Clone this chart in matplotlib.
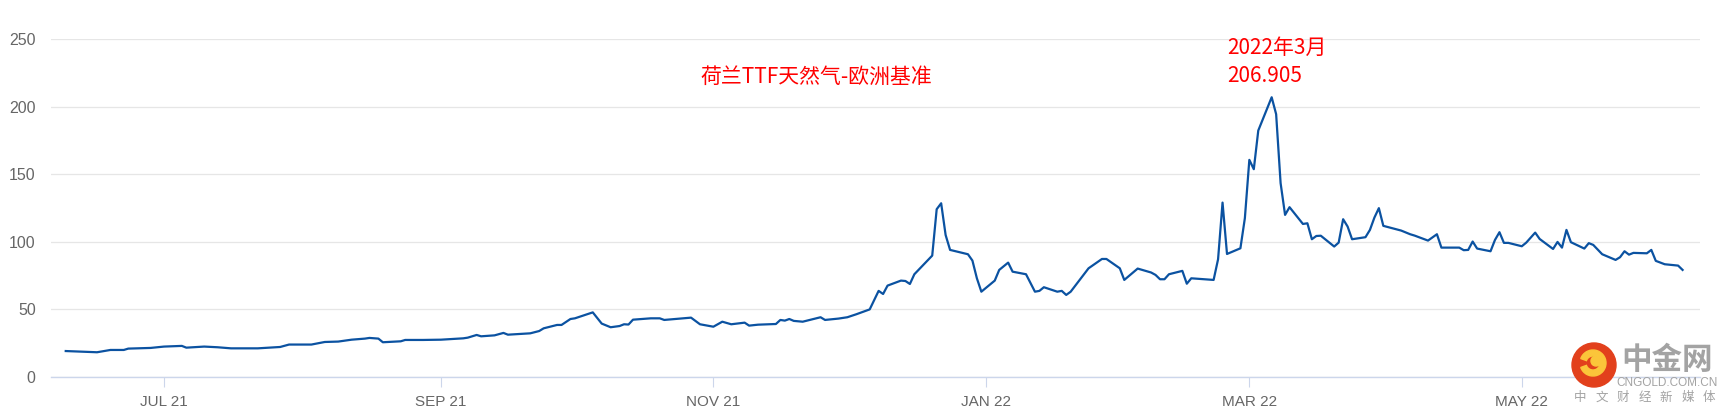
import pandas as pd
import matplotlib
matplotlib.use("Agg")
import matplotlib.pyplot as plt
from matplotlib.patches import Circle, Wedge

plt.rcParams['font.family'] = ['Liberation Sans', 'Noto Sans CJK SC', 'DejaVu Sans']

# TTF price (EUR/MWh), vertices
dates = [
    "2021-06-09", "2021-06-16", "2021-06-19", "2021-06-22", "2021-06-23", "2021-06-28",
    "2021-07-01", "2021-07-05", "2021-07-06", "2021-07-10", "2021-07-13", "2021-07-16",
    "2021-07-22", "2021-07-27", "2021-07-29", "2021-08-03", "2021-08-06", "2021-08-09",
    "2021-08-12", "2021-08-15", "2021-08-16", "2021-08-18", "2021-08-19", "2021-08-23",
    "2021-08-24", "2021-08-28", "2021-09-01", "2021-09-06", "2021-09-07", "2021-09-09",
    "2021-09-10", "2021-09-13", "2021-09-15", "2021-09-16", "2021-09-21", "2021-09-23",
    "2021-09-24", "2021-09-27", "2021-09-28", "2021-09-30", "2021-10-01", "2021-10-05",
    "2021-10-07", "2021-10-09", "2021-10-11", "2021-10-12", "2021-10-13", "2021-10-14",
    "2021-10-18", "2021-10-20", "2021-10-21", "2021-10-27", "2021-10-29", "2021-11-01",
    "2021-11-03", "2021-11-05", "2021-11-08", "2021-11-09", "2021-11-11", "2021-11-15",
    "2021-11-16", "2021-11-17", "2021-11-18", "2021-11-19", "2021-11-21", "2021-11-25",
    "2021-11-26", "2021-11-29", "2021-12-01", "2021-12-03", "2021-12-06", "2021-12-08",
    "2021-12-09", "2021-12-10", "2021-12-13", "2021-12-14", "2021-12-15", "2021-12-16",
    "2021-12-20", "2021-12-21", "2021-12-22", "2021-12-23", "2021-12-24", "2021-12-28",
    "2021-12-29", "2021-12-30", "2021-12-31", "2022-01-03", "2022-01-04", "2022-01-06",
    "2022-01-07", "2022-01-10", "2022-01-12", "2022-01-13", "2022-01-14", "2022-01-17",
    "2022-01-18", "2022-01-19", "2022-01-20", "2022-01-24", "2022-01-27", "2022-01-28",
    "2022-01-31", "2022-02-01", "2022-02-04", "2022-02-07", "2022-02-08", "2022-02-09",
    "2022-02-10", "2022-02-11", "2022-02-14", "2022-02-15", "2022-02-16", "2022-02-21",
    "2022-02-22", "2022-02-23", "2022-02-24", "2022-02-27", "2022-02-28", "2022-03-01",
    "2022-03-02", "2022-03-03", "2022-03-06", "2022-03-07", "2022-03-08", "2022-03-09",
    "2022-03-10", "2022-03-13", "2022-03-14", "2022-03-15", "2022-03-16", "2022-03-17",
    "2022-03-20", "2022-03-21", "2022-03-22", "2022-03-23", "2022-03-24", "2022-03-27",
    "2022-03-28", "2022-03-29", "2022-03-30", "2022-03-31", "2022-04-04", "2022-04-06",
    "2022-04-07", "2022-04-10", "2022-04-12", "2022-04-13", "2022-04-17", "2022-04-18",
    "2022-04-19", "2022-04-20", "2022-04-21", "2022-04-24", "2022-04-25", "2022-04-26",
    "2022-04-27", "2022-04-28", "2022-05-01", "2022-05-02", "2022-05-04", "2022-05-05",
    "2022-05-08", "2022-05-09", "2022-05-10", "2022-05-11", "2022-05-12", "2022-05-15",
    "2022-05-16", "2022-05-17", "2022-05-19", "2022-05-22", "2022-05-23", "2022-05-24",
    "2022-05-25", "2022-05-26", "2022-05-29", "2022-05-30", "2022-05-31", "2022-06-02",
    "2022-06-05", "2022-06-06",
]
prices = [
    19.2, 18.3, 20.0, 20.0, 21.0, 21.5,
    22.5, 23.0, 21.7, 22.5, 22.0, 21.2,
    21.2, 22.2, 24.0, 24.0, 25.9, 26.2,
    27.6, 28.4, 28.9, 28.4, 25.7, 26.4,
    27.4, 27.4, 27.6, 28.6, 29.1, 31.1,
    30.1, 30.8, 32.6, 31.3, 32.3, 34.0,
    36.0, 38.5, 38.5, 42.9, 43.4, 47.8,
    39.5, 36.8, 37.7, 39.0, 38.8, 42.4,
    43.4, 43.4, 42.2, 43.9, 39.0, 37.2,
    40.9, 39.0, 40.2, 38.0, 38.7, 39.2,
    42.2, 41.7, 42.9, 41.5, 40.9, 44.2,
    42.2, 43.2, 44.2, 46.4, 50.0, 63.7,
    61.4, 67.6, 71.3, 71.0, 68.8, 76.0,
    89.8, 124.1, 128.5, 105.0, 94.0, 90.8,
    86.1, 73.0, 63.1, 71.3, 79.2, 84.6,
    77.9, 76.0, 63.1, 63.7, 66.4, 63.1,
    63.7, 60.7, 63.1, 80.4, 87.3, 87.3,
    80.4, 71.8, 80.2, 77.3, 75.5, 72.3,
    72.3, 76.0, 78.5, 69.0, 73.0, 71.8,
    87.1, 129.0, 91.0, 95.2, 117.5, 160.6,
    153.7, 182.3, 206.905, 194.4, 143.4, 119.9,
    125.6, 113.2, 113.7, 101.9, 104.3, 104.5,
    96.5, 99.4, 116.7, 111.3, 101.9, 103.4,
    108.8, 117.9, 124.9, 111.8, 108.3, 105.6,
    104.6, 100.9, 105.6, 95.7, 95.7, 93.8,
    94.0, 100.2, 95.0, 93.0, 101.4, 107.1,
    99.2, 99.2, 96.7, 99.4, 106.8, 102.1,
    94.7, 99.9, 95.7, 108.8, 99.7, 95.0,
    99.0, 97.7, 90.8, 86.6, 88.6, 93.0,
    90.5, 91.8, 91.5, 94.0, 85.9, 83.4,
    82.4, 79.2,
]
tick_dates = ["2021-07-01", "2021-09-01", "2021-11-01", "2022-01-01", "2022-03-01", "2022-05-01"]
tick_labels = ["JUL 21", "SEP 21", "NOV 21", "JAN 22", "MAR 22", "MAY 22"]
y_ticks = [0, 50, 100, 150, 200, 250]

title = "荷兰TTF天然气-欧洲基准"
peak_label = "2022年3月\n206.905"
logo_sub = "中文财经新媒体"

W, H = 1728, 415


def px(x, y):
    return x / W, 1 - y / H


x = pd.to_datetime(dates)

fig = plt.figure(figsize=(W / 100, H / 100), dpi=100)
ax = fig.add_axes([51 / W, (H - 377) / H, (1700 - 51) / W, (377 - 39) / H])

ax.plot(x, prices, color="#0b52a1", lw=1.6, solid_joinstyle="round")

start = pd.Timestamp("2021-07-01")
ax.set_xlim(start + pd.Timedelta(days=-25.3), start + pd.Timedelta(days=343.9))
ax.set_ylim(0, 250)

ax.set_yticks(y_ticks)
ax.set_xticks(pd.to_datetime(tick_dates))
ax.set_xticklabels(tick_labels)
ax.grid(axis="y", color="#e6e6e6", lw=0.9)
ax.set_axisbelow(True)
for s in ["top", "right", "left"]:
    ax.spines[s].set_visible(False)
ax.spines["bottom"].set_color("#ccd6eb")
ax.spines["bottom"].set_linewidth(1)
ax.tick_params(axis="y", length=0, pad=11, labelsize=11.5, labelcolor="#666666")
ax.tick_params(axis="x", length=7, width=0.8, color="#ccd6eb", pad=6,
               labelsize=11, labelcolor="#666666")

# red annotations
cjk = ["Noto Sans CJK SC", "DejaVu Sans"]
fig.text(*px(816, 77), title, color="red", fontsize=15, ha="center", va="center", family=cjk)
fig.text(*px(1227, 62), peak_label, color="red", fontsize=15, ha="left", va="center",
         linespacing=1.35, family=cjk)

# watermark logo
cx, cy = 1594, H - 365
fig.patches.append(Circle((cx, cy), 22, transform=None, color="#e2401c", zorder=5))
fig.patches.append(Wedge((cx - 1, cy + 2), 13, 200, 520, width=6, transform=None,
                         color="#fbc53a", zorder=6))
fig.patches.append(Circle((cx + 2, cy + 4), 5, transform=None, color="#fbc53a", zorder=6))
fig.text(*px(1667, 360), "中金网", color="#a3a3a3", fontsize=22, fontweight="bold",
         ha="center", va="center", family=cjk)
fig.text(*px(1667, 383), "CNGOLD.COM.CN", color="#a3a3a3", fontsize=8.5,
         ha="center", va="center")
for i, ch in enumerate(logo_sub):
    fig.text(*px(1580 + i * 21.5, 397), ch, color="#a3a3a3", fontsize=9,
             ha="center", va="center", family=cjk)

fig.savefig("out.png", dpi=100)
